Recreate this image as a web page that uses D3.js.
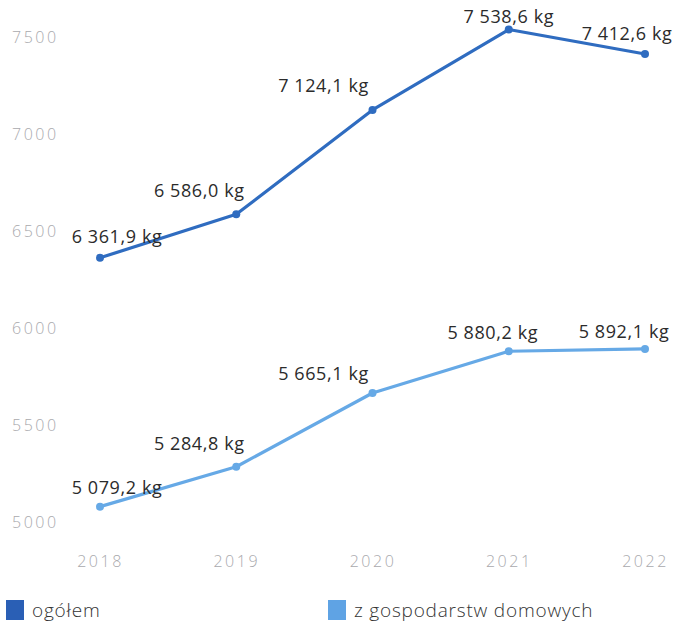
<!DOCTYPE html>
<html><head><meta charset="utf-8">
<script src="https://cdn.jsdelivr.net/npm/d3@7"></script>
<style>body{margin:0;background:#fff}</style>
</head><body>
<svg id="c" width="675" height="630"></svg>
<script>
const years = ["2018","2019","2020","2021","2022"];
const ogolem = [6361.9, 6586.0, 7124.1, 7538.6, 7412.6];
const gosp = [5079.2, 5284.8, 5665.1, 5880.2, 5892.1];
const yTicks = [5000, 5500, 6000, 6500, 7000, 7500];
const seriesNames = ["ogółem", "z gospodarstw domowych"];
const colors = ["#2f6cc0", "#66a9e6"];
const legendColors = ["#2a5fb5", "#5fa3e4"];
// label layout (not data)
const shiftOgolem = [[17,-15],[-37,-17],[-49,-18],[0,-7],[-18,-14]];
const shiftGosp = [[17,-13],[-37,-17],[-49,-13],[-16,-12],[-21,-11]];

const svg = d3.select("#c");
const font = "'Open Sans', sans-serif";
const x = d3.scalePoint().domain(years).range([100, 645]);
const y = d3.scaleLinear().domain([5000, 7500]).range([522, 37]);

const yAxis = svg.append("g").attr("transform","translate(12,0)")
  .call(d3.axisRight(y).tickValues(yTicks).tickSize(0).tickFormat(d3.format("d")));
yAxis.select(".domain").remove();
yAxis.selectAll("text").attr("x",0).attr("dy","0.35em").attr("fill","#a9a9ad")
  .style("font-family",font).style("font-size","16px").style("font-weight","300").style("letter-spacing","2.5px");

const xAxis = svg.append("g").attr("transform","translate(0,561)")
  .call(d3.axisBottom(x).tickSize(0));
xAxis.select(".domain").remove();
xAxis.selectAll("text").attr("y",0).attr("dy","0.35em").attr("fill","#a9a9ad")
  .style("font-family",font).style("font-size","16px").style("font-weight","300").style("letter-spacing","2.5px");

const fmt = v => {
  const s = v.toFixed(1).replace(".", ",");
  const [i, f] = s.split(",");
  return i.replace(/\B(?=(\d{3})+(?!\d))/g, " ") + "," + f + " kg";
};

const line = d3.line().x((d,i)=>x(years[i])).y(d=>y(d));
[[ogolem, colors[0], shiftOgolem],[gosp, colors[1], shiftGosp]].forEach(([vals,col,sh])=>{
  svg.append("path").datum(vals).attr("d",line).attr("fill","none")
    .attr("stroke",col).attr("stroke-width",3.2).attr("stroke-linejoin","round");
  svg.selectAll(null).data(vals).enter().append("circle")
    .attr("cx",(d,i)=>x(years[i])).attr("cy",d=>y(d)).attr("r",4).attr("fill",col);
  svg.selectAll(null).data(vals).enter().append("text")
    .attr("x",(d,i)=>x(years[i])+sh[i][0]).attr("y",(d,i)=>y(d)+sh[i][1])
    .attr("text-anchor","middle").attr("fill","#2b2b2b")
    .style("font-family",font).style("font-size","18px").style("font-weight","500").style("letter-spacing","0.6px")
    .text(d=>fmt(d));
});

const leg = svg.append("g");
[[6,0],[328,1]].forEach(([lx,k])=>{
  leg.append("rect").attr("x",lx).attr("y",600).attr("width",18).attr("height",20).attr("fill",legendColors[k]);
  leg.append("text").attr("x",lx+26).attr("y",617).attr("fill","#333")
    .style("font-family",font).style("font-size","19px").style("font-weight","300").style("letter-spacing","0.8px").text(seriesNames[k]);
});
</script>
</body></html>
